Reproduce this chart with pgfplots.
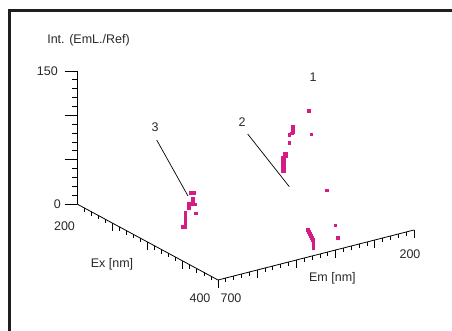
\documentclass[border=0pt]{standalone}
\usepackage{pgfplots}
\pgfplotsset{compat=1.18}
\usepackage{fontspec}
\setmainfont{Liberation Sans}
\definecolor{mag}{RGB}{212,28,132}
\definecolor{txt}{RGB}{40,40,40}
\pgfplotsset{magpts/.style={only marks, color=mag, mark=square*, mark size=1.3pt, mark options={solid, draw=mag, fill=mag, line width=0.2pt}}}
\begin{document}
\begin{tikzpicture}[font=\fontsize{12.5}{15}\selectfont]
\begin{axis}[hide axis,
  x={(0.705pt,-0.38pt)}, y={(-0.392pt,-0.1pt)}, z={(0pt,0.8867pt)},
  xmin=200,xmax=400,ymin=200,ymax=700,zmin=0,zmax=150, clip=false]
% peak 3
\addplot3[magpts] coordinates {
(300,590.3,43.2) (300,585.2,42.7) (300,581.4,42.2)
(300,584.7,36.1) (300,584.7,33.8) (300,584.7,31.5) (300,584.7,29.9) (300,580.1,29.0)
(300,595.9,31.7) (300,595.9,29.4) (300,595.9,27.2)
(300,577.0,18.5)
(300,604.3,22.5) (300,604.3,20.2) (300,604.3,18.0) (300,604.3,15.7) (300,604.3,13.5) (300,604.3,11.2) (300,604.3,8.9) (300,604.3,6.7)
(300,609.4,7.3) (300,610.7,7.4)
};
% peaks 1 and 2
\addplot3[magpts] coordinates {
(350,379.7,133.8)
(350,420.0,120.1) (350,420.0,117.3) (350,420.0,114.5) (350,422.6,113.1)
(350,428.2,112.2)
(350,372.8,106.0)
(350,428.2,103.2)
(350,436.6,91.5) (350,436.6,89.3)
(350,441.7,92.1) (350,441.7,89.9) (350,441.7,87.6) (350,441.7,85.3) (350,441.7,83.1)
(350,441.7,80.8) (350,441.7,78.6) (350,441.7,76.3) (350,441.7,74.1) (350,441.7,72.4)
(350,446.8,88.2) (350,446.8,85.9) (350,446.8,83.7) (350,446.8,81.4) (350,446.8,79.1)
(350,446.8,76.9) (350,446.8,74.6) (350,446.8,72.9)
};
% lower group
\addplot3[magpts] coordinates {
(400,422.7,70.2) (400,401.5,28.4) (400,394.6,13.7)
(400,471.7,31.2) (400,469.1,28.7) (400,466.6,26.1) (400,464.0,23.6) (400,461.5,21.0) (400,458.9,18.5)
(400,456.9,16.0) (400,456.9,13.7) (400,456.9,11.5) (400,456.9,9.2)
};
\coordinate (O) at (axis cs:200,700,0);
\end{axis}
\begin{scope}[shift={(O)}, x=1pt, y=1pt]
\pgfresetboundingbox
\useasboundingbox (-77,-127) rectangle (375,204);
% frame
\draw[line width=3pt, black!88] (-67.5,-140) -- (-67.5,193) -- (390,193);
% z axis
\draw[line width=0.8pt] (0,0) -- (0,133);
\foreach \k in {0,...,15} {
  \pgfmathsetmacro{\yy}{0.8867*10*\k}
  \pgfmathsetmacro{\len}{ifthenelse(mod(\k,5)==0,12,5)}
  \draw[line width=0.8pt] (-\len,\yy) -- (0,\yy);
}
% Ex axis
\draw[line width=0.8pt] (0,0) -- (141,-76);
\foreach \k in {1,...,20} {
  \pgfmathsetmacro{\xx}{0.705*10*\k}
  \pgfmathsetmacro{\yy}{-0.38*10*\k}
  \pgfmathsetmacro{\len}{ifthenelse(mod(\k,5)==0,8,4)}
  \draw[line width=0.8pt] (\xx,\yy) -- (\xx,\yy-\len);
}
% Em axis
\draw[line width=0.8pt] (141,-76) -- (337,-26);
\foreach \k in {0,...,25} {
  \pgfmathsetmacro{\xx}{141+0.392*20*\k}
  \pgfmathsetmacro{\yy}{-76+0.1*20*\k}
  \pgfmathsetmacro{\len}{ifthenelse(mod(\k,5)==0,8,4)}
  \draw[line width=0.8pt] (\xx,\yy) -- (\xx,\yy-\len);
}
% labels
\begin{scope}[every node/.style={inner sep=0pt, text=txt}]
\node[anchor=base] at (11.5,160) {Int. (EmL./Ref)};
\node[anchor=base east] at (-19,128.5) {150};
\node[anchor=base east] at (-16,-4.5) {0};
\node[anchor=base] at (-12.5,-27) {200};
\node[anchor=base] at (35,-64) {Ex [nm]};
\node[anchor=base] at (123,-99) {400};
\node[anchor=base] at (154,-99) {700};
\node[anchor=base] at (255.4,-78) {Em [nm]};
\node[anchor=base] at (333,-55) {200};
\node[anchor=base] at (236,122) {1};
\node[anchor=base] at (165,77) {2};
\node[anchor=base] at (78,72) {3};
\end{scope}
\draw[line width=0.7pt] (170.7,70) -- (212.3,17.3);
\draw[line width=0.7pt] (79.7,64) -- (111,8);
\end{scope}
\end{tikzpicture}
\end{document}
